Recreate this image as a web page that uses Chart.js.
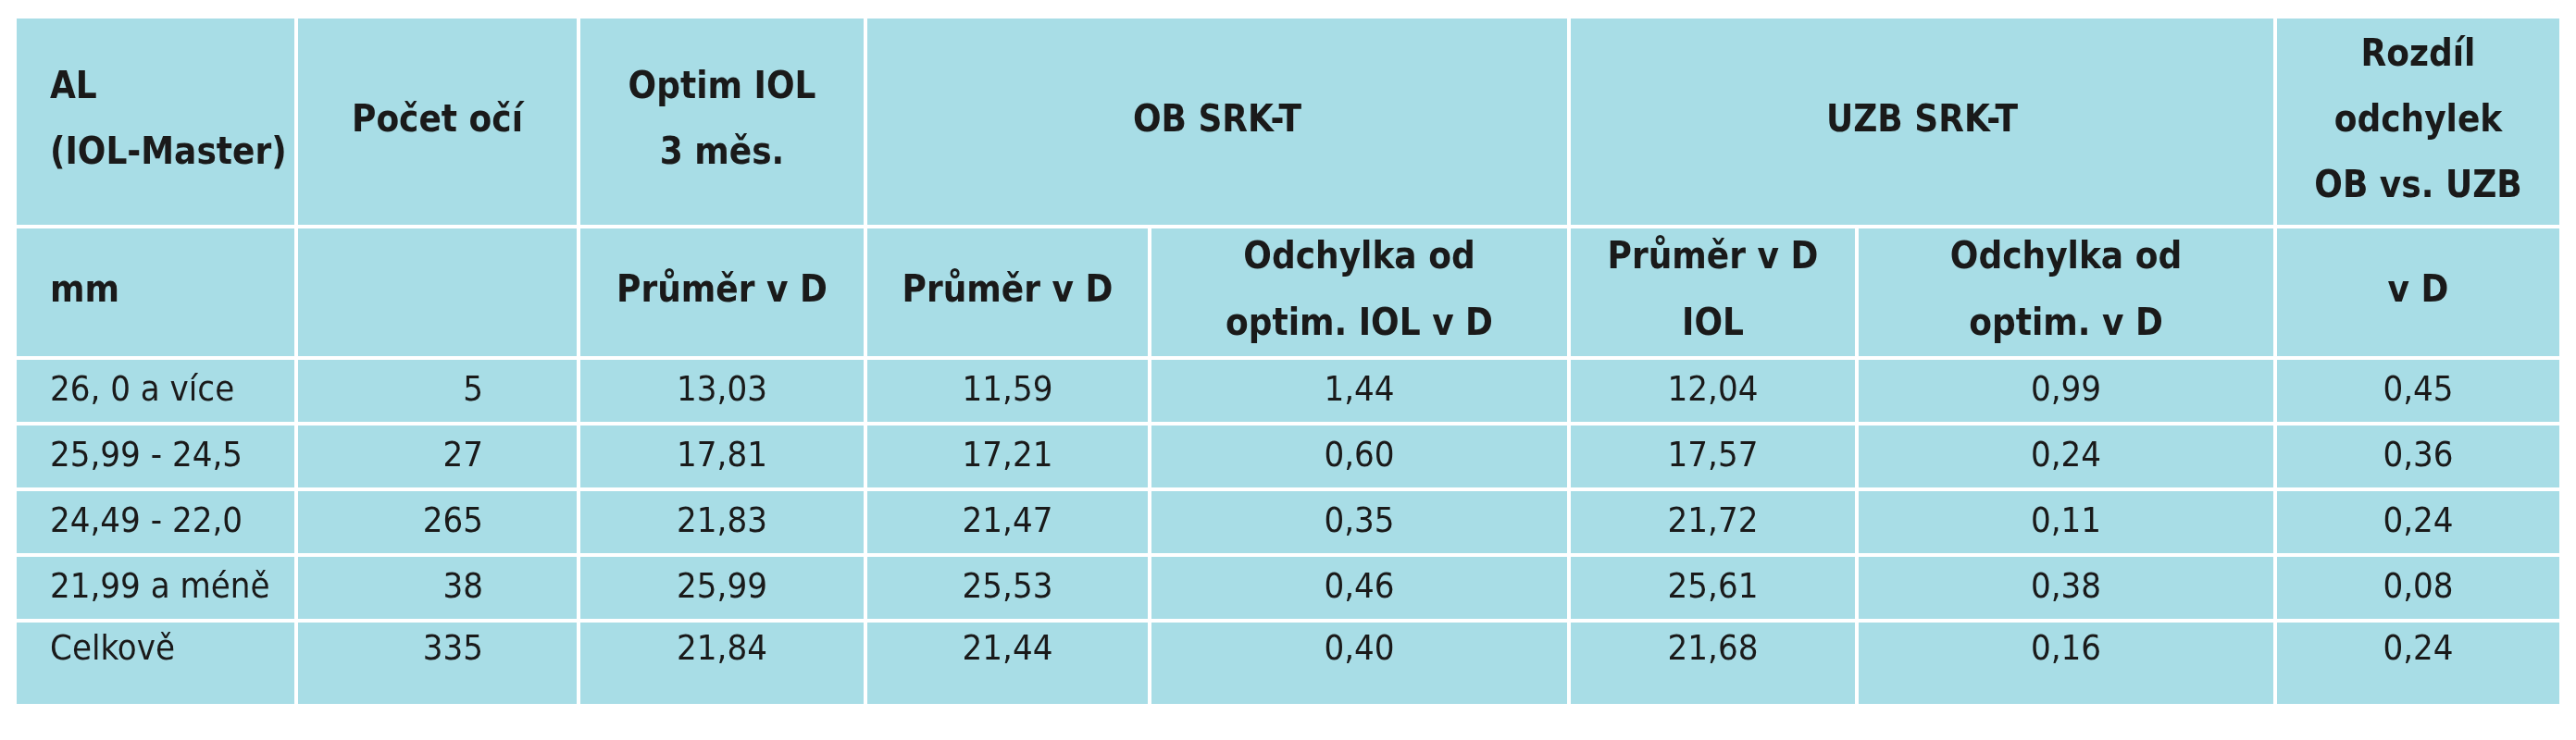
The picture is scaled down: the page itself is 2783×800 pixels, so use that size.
<!DOCTYPE html>
<html><head><meta charset="utf-8">
<script src="https://cdn.jsdelivr.net/npm/chart.js@4"></script>
<style>html,body{margin:0;padding:0;background:#fff;}canvas{display:block;}</style>
</head><body>
<canvas id="c" width="2783" height="800"></canvas>
<script>
// ---- data ----
const categories = ["26, 0 a více","25,99 - 24,5","24,49 - 22,0","21,99 a méně","Celkově"];
const eyeCounts = [5,27,265,38,335];
const optimIOL = ["13,03","17,81","21,83","25,99","21,84"];
const obMean = ["11,59","17,21","21,47","25,53","21,44"];
const obDev = ["1,44","0,60","0,35","0,46","0,40"];
const uzbMean = ["12,04","17,57","21,72","25,61","21,68"];
const uzbDev = ["0,99","0,24","0,11","0,38","0,16"];
const diff = ["0,45","0,36","0,24","0,08","0,24"];
const headerTop = [
  {c:[0,1], lines:["AL","(IOL-Master)"], align:"left"},
  {c:[1,2], lines:["Počet očí"]},
  {c:[2,3], lines:["Optim IOL","3 měs."]},
  {c:[3,5], lines:["OB SRK-T"]},
  {c:[5,7], lines:["UZB SRK-T"]},
  {c:[7,8], lines:["Rozdíl","odchylek","OB vs. UZB"]}
];
const headerSub = [
  {c:[0,1], lines:["mm"], align:"left"},
  {c:[1,2], lines:[""]},
  {c:[2,3], lines:["Průměr v D"]},
  {c:[3,4], lines:["Průměr v D"]},
  {c:[4,5], lines:["Odchylka od","optim. IOL v D"]},
  {c:[5,6], lines:["Průměr v D","IOL"]},
  {c:[6,7], lines:["Odchylka od","optim. v D"]},
  {c:[7,8], lines:["v D"]}
];
// ---- layout ----
const colEdges = [16,320,625,935,1242,1695,2006,2458,2767];
const rowEdges = [18,245,387,458,529,600,671,763];
const FONT = '"Liberation Sans Narrow","DejaVu Sans Condensed","Roboto",sans-serif';
const BG = '#a8dde6';

const tablePlugin = {
  id:'table',
  afterDraw(chart){
    const ctx = chart.ctx;
    ctx.save();
    ctx.fillStyle='#fff'; ctx.fillRect(0,0,chart.width,chart.height);
    const gap=2;
    function cell(c0,c1,r0,r1,lines,align,bold,yOff,lh){
      const x0=colEdges[c0]+gap,x1=colEdges[c1]-gap,y0=rowEdges[r0]+gap,y1=rowEdges[r1]-gap;
      ctx.fillStyle=BG; ctx.fillRect(x0,y0,x1-x0,y1-y0);
      ctx.fillStyle='#1a1a1a';
      ctx.font=(bold?'bold 40px ':'38px ')+FONT;
      ctx.textBaseline='middle';
      const n=lines.length;
      const cy = yOff!=null ? y0+yOff : (y0+y1)/2;
      lines.forEach((t,i)=>{
        const y = cy + (i-(n-1)/2)*lh;
        if(align==='left'){ctx.textAlign='left';ctx.fillText(t,x0+36,y);}
        else if(align==='right'){ctx.textAlign='right';ctx.fillText(t,x0+200,y);}
        else {ctx.textAlign='center';ctx.fillText(t,(x0+x1)/2,y);}
      });
    }
    headerTop.forEach(h=>cell(h.c[0],h.c[1],0,1,h.lines,h.align,true,null,h.c[0]===7?71:71));
    headerSub.forEach(h=>cell(h.c[0],h.c[1],1,2,h.lines,h.align,true,null,72));
    const cols=[categories,eyeCounts,optimIOL,obMean,obDev,uzbMean,uzbDev,diff];
    categories.forEach((_,r)=>{
      cols.forEach((arr,ci)=>{
        cell(ci,ci+1,2+r,3+r,[String(arr[r])],ci===0?'left':(ci===1?'right':'center'),false,r===4?30:34,0);
      });
    });
    ctx.restore();
  }
};
new Chart(document.getElementById('c'),{
  type:'bar',
  data:{labels:categories,datasets:[{data:eyeCounts,hidden:true}]},
  options:{responsive:false,devicePixelRatio:1,animation:false,
    plugins:{legend:{display:false},tooltip:{enabled:false}},
    scales:{x:{display:false},y:{display:false}}},
  plugins:[tablePlugin]
});
</script>
</body></html>
